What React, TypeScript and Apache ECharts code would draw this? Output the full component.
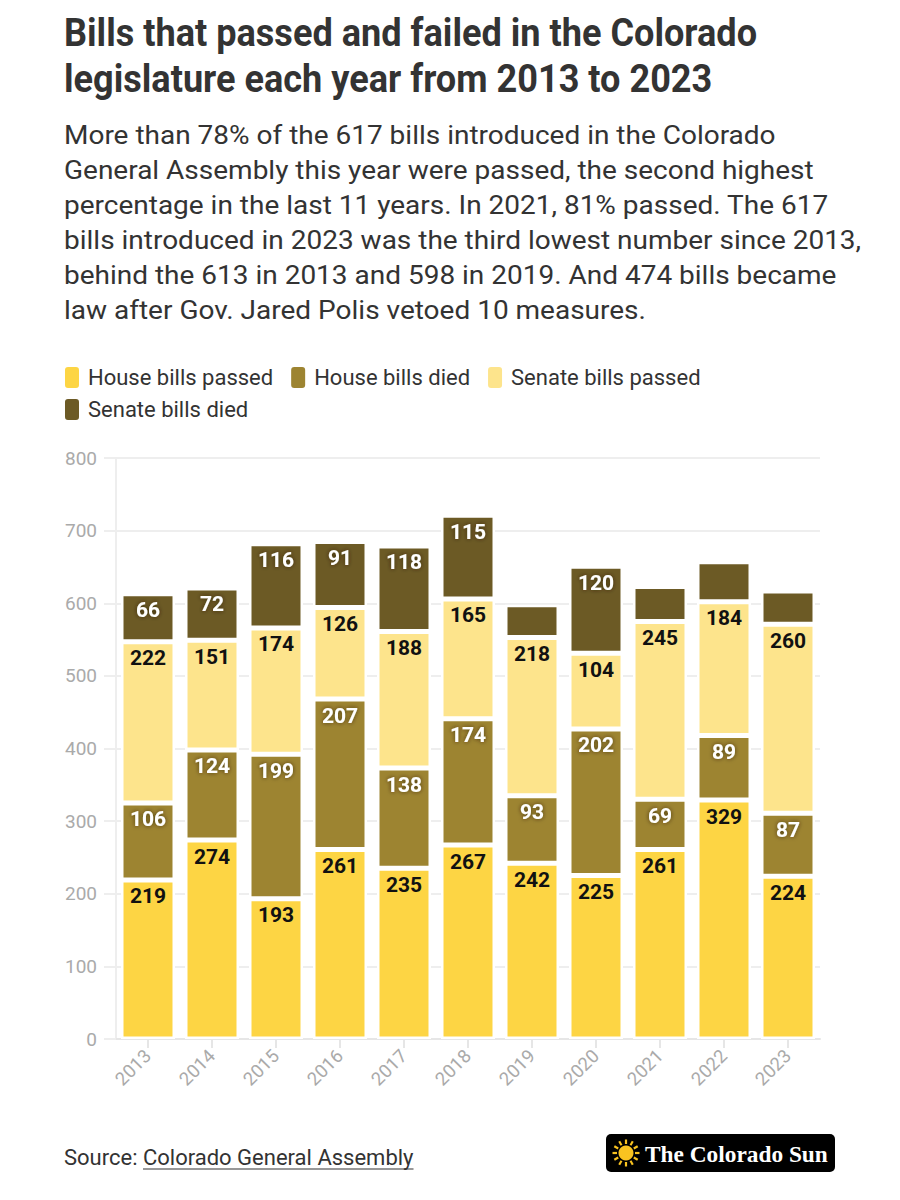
import React, { useEffect, useRef } from "react";
import * as echarts from "echarts";

const years = ["2013", "2014", "2015", "2016", "2017", "2018", "2019", "2020", "2021", "2022", "2023"];
const houseBillsPassed = [219, 274, 193, 261, 235, 267, 242, 225, 261, 329, 224];
const houseBillsDied = [106, 124, 199, 207, 138, 174, 93, 202, 69, 89, 87];
const senateBillsPassed = [222, 151, 174, 126, 188, 165, 218, 104, 245, 184, 260];
const senateBillsDied = [66, 72, 116, 91, 118, 115, 45, 120, 48, 55, 46];
const yTicks = { min: 0, max: 800, interval: 100 };

const titleLines = [
  "Bills that passed and failed in the Colorado",
  "legislature each year from 2013 to 2023",
];
const subtitleLines = [
  "More than 78% of the 617 bills introduced in the Colorado",
  "General Assembly this year were passed, the second highest",
  "percentage in the last 11 years. In 2021, 81% passed. The 617",
  "bills introduced in 2023 was the third lowest number since 2013,",
  "behind the 613 in 2013 and 598 in 2019. And 474 bills became",
  "law after Gov. Jared Polis vetoed 10 measures.",
];

function measure(text: string, font: string): number {
  const c = document.createElement("canvas");
  const ctx = c.getContext("2d");
  if (!ctx) return text.length * 10;
  ctx.font = font;
  return ctx.measureText(text).width;
}

export default function App() {
  const ref = useRef<HTMLDivElement>(null);
  useEffect(() => {
    if (!ref.current) return;
    const chart = echarts.init(ref.current, null, { renderer: "svg" });

    const titleFont = "bold 39px Roboto";
    const titleScale = 693 / measure(titleLines[0], titleFont);
    const subFont = "25px Roboto";
    const subScale = 712 / measure(subtitleLines[0], subFont);
    const srcFont = "22px Roboto";
    const srcW = measure("Source: ", srcFont);
    const linkW = measure("Colorado General Assembly", srcFont);
    const logoFont = "bold 24px 'Liberation Serif'";
    const logoScale = 183 / measure("The Colorado Sun", logoFont);

    const graphics: any[] = [];
    titleLines.forEach((t, i) => {
      graphics.push({
        type: "text",
        x: 64,
        y: 33 + i * 46,
        scaleX: titleScale,
        style: { text: t, font: titleFont, fill: "#333333", align: "left", verticalAlign: "middle" },
      });
    });
    subtitleLines.forEach((t, i) => {
      graphics.push({
        type: "text",
        x: 64,
        y: 135 + i * 35,
        scaleX: subScale,
        style: { text: t, font: subFont, fill: "#333333", align: "left", verticalAlign: "middle" },
      });
    });
    graphics.push({
      type: "text",
      x: 64,
      y: 1157,
      style: { text: "Source: ", font: srcFont, fill: "#333333", align: "left", verticalAlign: "middle" },
    });
    graphics.push({
      type: "text",
      x: 64 + srcW,
      y: 1157,
      style: { text: "Colorado General Assembly", font: srcFont, fill: "#333333", align: "left", verticalAlign: "middle" },
    });
    graphics.push({
      type: "line",
      shape: { x1: 64 + srcW, y1: 1169, x2: 64 + srcW + linkW, y2: 1169 },
      style: { stroke: "#333333", lineWidth: 1.2 },
    });
    // logo
    graphics.push({
      type: "rect",
      shape: { x: 606, y: 1134, width: 229, height: 38, r: 5 },
      style: { fill: "#000000" },
    });
    const cx = 626, cy = 1153;
    for (let k = 0; k < 12; k++) {
      const a = (k * Math.PI * 2) / 12;
      graphics.push({
        type: "line",
        shape: { x1: cx + Math.cos(a) * 9, y1: cy + Math.sin(a) * 9, x2: cx + Math.cos(a) * 13.5, y2: cy + Math.sin(a) * 13.5 },
        style: { stroke: "#f9c320", lineWidth: 2.2 },
      });
    }
    graphics.push({ type: "circle", shape: { cx, cy, r: 7.5 }, style: { fill: "#f9c320" } });
    graphics.push({
      type: "text",
      x: 645,
      y: 1154,
      scaleX: logoScale,
      style: { text: "The Colorado Sun", font: logoFont, fill: "#ffffff", align: "left", verticalAlign: "middle" },
    });

    const fmt = (p: any) => (p.value >= 60 ? String(p.value) : "");
    const lightLabel = {
      show: true,
      position: "insideTop",
      distance: 6,
      formatter: fmt,
      color: "#111111",
      fontFamily: "Roboto",
      fontWeight: "bold",
      fontSize: 21,
    };
    const darkLabel = {
      show: true,
      position: "insideTop",
      distance: 6,
      formatter: fmt,
      color: "#ffffff",
      fontFamily: "Roboto",
      fontWeight: "bold",
      fontSize: 21,
      textShadowColor: "rgba(40,30,0,0.7)",
      textShadowBlur: 4,
    };
    const mk = (name: string, data: number[], color: string, label: any) => ({
      name,
      type: "bar",
      stack: "total",
      data,
      barWidth: 54,
      itemStyle: { color, borderColor: "#ffffff", borderWidth: 2.5 },
      label,
      emphasis: { disabled: true },
    });

    chart.setOption({
      animation: false,
      textStyle: { fontFamily: "Roboto" },
      legend: {
        left: 58,
        top: 360,
        width: 720,
        icon: "roundRect",
        itemWidth: 16,
        itemHeight: 23,
        itemGap: 7,
        textStyle: { fontSize: 22, color: "#333333", fontFamily: "Roboto", padding: [0, 9, 0, 3], lineHeight: 24 },
        selectedMode: false,
      },
      grid: { left: 116, right: 80, top: 458, bottom: 161 },
      xAxis: {
        type: "category",
        data: years,
        axisLine: { lineStyle: { color: "#e6e6e6", width: 2 } },
        axisTick: { show: true, alignWithLabel: true, length: 9, lineStyle: { color: "#e6e6e6", width: 2 } },
        axisLabel: { rotate: 45, color: "#aaaaaa", fontSize: 18.5, margin: 14, fontFamily: "Roboto" },
      },
      yAxis: {
        type: "value",
        min: yTicks.min,
        max: yTicks.max,
        interval: yTicks.interval,
        axisLine: { show: true, lineStyle: { color: "#eeeeee", width: 2 } },
        axisTick: { show: true, length: 12, lineStyle: { color: "#eeeeee", width: 2 } },
        splitLine: { lineStyle: { color: "#eeeeee", width: 2 } },
        axisLabel: { color: "#aaaaaa", fontSize: 19, margin: 19, fontFamily: "Roboto" },
      },
      series: [
        mk("House bills passed", houseBillsPassed, "#fdd544", lightLabel),
        mk("House bills died", houseBillsDied, "#9d8431", darkLabel),
        mk("Senate bills passed", senateBillsPassed, "#fde48c", lightLabel),
        mk("Senate bills died", senateBillsDied, "#6c5a25", darkLabel),
      ],
      graphic: graphics,
    });
    return () => chart.dispose();
  }, []);
  return (
    <div
      ref={ref}
      style={{ position: "absolute", left: 0, top: 0, width: 900, height: 1200, background: "#ffffff" }}
    />
  );
}
